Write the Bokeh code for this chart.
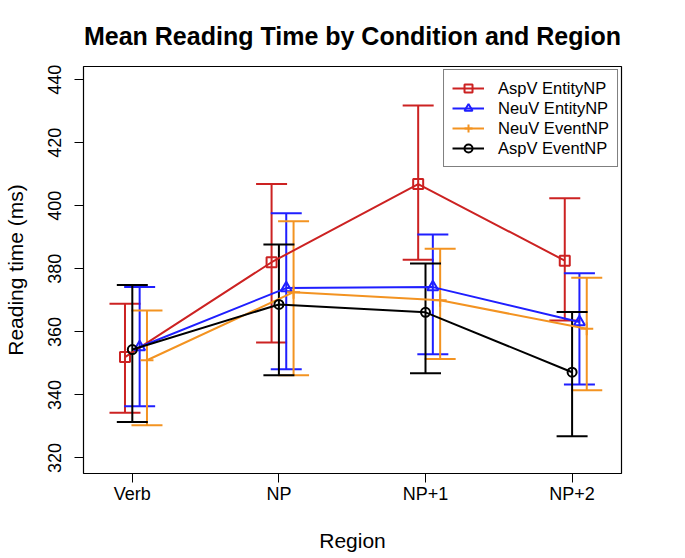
from bokeh.plotting import figure
from bokeh.models import (Whisker, TeeHead, ColumnDataSource, FixedTicker,
                          Legend, LegendItem)
from bokeh.embed import file_html
from bokeh.resources import INLINE

regions = ["Verb", "NP", "NP+1", "NP+2"]
conditions = ["AspV EntityNP", "NeuV EntityNP", "NeuV EventNP", "AspV EventNP"]

# mean reading time and 95% CI bounds, per region
asp_entity_mean = [352.0, 382.1, 406.9, 382.6]
asp_entity_lo = [334.3, 356.6, 382.9, 363.6]
asp_entity_hi = [368.9, 406.9, 431.8, 402.4]

neu_entity_mean = [355.2, 373.9, 374.2, 363.1]
neu_entity_lo = [336.4, 348.1, 352.9, 343.3]
neu_entity_hi = [374.2, 397.6, 390.9, 378.6]

neu_event_mean = [351.0, 372.6, 370.0, 361.0]
neu_event_lo = [330.4, 346.2, 351.4, 341.5]
neu_event_hi = [366.8, 395.1, 386.4, 377.2]

asp_event_mean = [354.4, 368.7, 366.2, 347.2]
asp_event_lo = [331.4, 346.2, 346.9, 326.9]
asp_event_hi = [374.9, 387.7, 381.7, 366.3]

y_ticks = [320, 340, 360, 380, 400, 420, 440]

FONT = "Liberation Sans"

p = figure(width=685, height=558, x_range=(0.667, 4.337), y_range=(315.06, 444.2),
           output_backend="svg", toolbar_location=None,
           min_border_left=83, min_border_right=64, min_border_top=66, min_border_bottom=85,
           title="Mean Reading Time by Condition and Region")

p.title.align = "center"
p.title.text_font = FONT
p.title.text_font_size = "25px"
p.title.text_font_style = "bold"
p.title.text_color = "black"
p.title.standoff = 34

p.grid.visible = False
p.outline_line_color = "black"
p.outline_line_width = 1.2
p.background_fill_color = "white"
p.border_fill_color = "white"

for ax in (p.xaxis[0], p.yaxis[0]):
    ax.axis_line_color = None
    ax.major_tick_out = 9
    ax.major_tick_in = 0
    ax.major_tick_line_color = "black"
    ax.minor_tick_line_color = None
    ax.major_label_text_font = FONT
    ax.major_label_text_font_size = "18px"
    ax.major_label_text_color = "black"
    ax.axis_label_text_font = FONT
    ax.axis_label_text_font_size = "21px"
    ax.axis_label_text_font_style = "normal"
    ax.axis_label_text_color = "black"

p.xaxis.ticker = FixedTicker(ticks=[1, 2, 3, 4])
p.xaxis.major_label_overrides = {i + 1: r for i, r in enumerate(regions)}
p.xaxis.axis_label = "Region"
p.xaxis.major_label_standoff = 1
p.xaxis.axis_label_standoff = 22

p.yaxis.ticker = FixedTicker(ticks=y_ticks)
p.yaxis.major_label_orientation = "vertical"
p.yaxis.axis_label = "Reading time (ms)"
p.yaxis.major_label_standoff = 13
p.yaxis.axis_label_standoff = 19

series = [
    (asp_entity_mean, asp_entity_lo, asp_entity_hi, "#cc2222", "square", 10, -0.05),
    (neu_entity_mean, neu_entity_lo, neu_entity_hi, "#1f1fff", "triangle", 11, 0.05),
    (neu_event_mean, neu_event_lo, neu_event_hi, "#f39321", "cross", 13, 0.10),
    (asp_event_mean, asp_event_lo, asp_event_hi, "black", "circle", 9, 0.0),
]

items = []
for (mean, lo, hi, color, marker, size, off), name in zip(series, conditions):
    xs = [i + 1 + off for i in range(len(regions))]
    src = ColumnDataSource(dict(x=xs, y=mean, lo=lo, hi=hi))
    w = Whisker(source=src, base="x", lower="lo", upper="hi", dimension="height",
                line_color=color, line_width=2,
                upper_head=TeeHead(size=31, line_color=color, line_width=2),
                lower_head=TeeHead(size=31, line_color=color, line_width=2))
    p.add_layout(w)
    ln = p.line("x", "y", source=src, line_color=color, line_width=2)
    mk = p.scatter("x", "y", source=src, marker=marker, size=size,
                   line_color=color, fill_color=None, line_width=2)
    items.append(LegendItem(label=name, renderers=[ln, mk]))

legend = Legend(items=items, location="top_right", margin=3, padding=8,
                spacing=0, glyph_width=32, glyph_height=20, label_height=20,
                label_standoff=14, label_text_font=FONT, label_text_font_size="16.5px",
                label_text_color="black", border_line_color="black",
                border_line_width=1, background_fill_alpha=1)
p.add_layout(legend)

open("out.html", "w").write(file_html(p, INLINE))
